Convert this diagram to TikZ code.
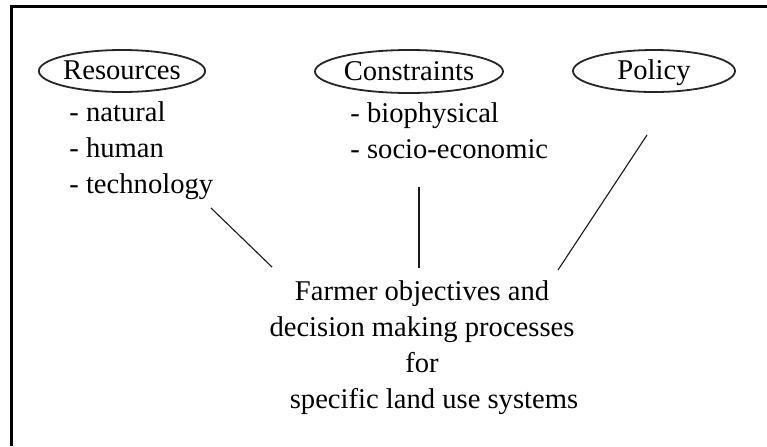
\documentclass[tikz,border=0pt]{standalone}
\usepackage{fontspec}
\setmainfont{Liberation Serif}
\usetikzlibrary{shapes.geometric}
\begin{document}
\begin{tikzpicture}[x=0.5pt,y=-0.5pt,
  txt/.style={font=\fontsize{14.3}{18}\selectfont, inner sep=0pt},
  topic/.style={txt, draw=black!85, line width=0.9pt, ellipse, text height=8.5pt, text depth=0pt},
  listbox/.style={txt, align=left, anchor=base west},
  bodybox/.style={txt, align=center, anchor=base},
  conn/.style={line width=0.55pt, draw=black!90},
  frame/.style={line width=1.5pt}]
\useasboundingbox (0,0) rectangle (767,446);
\fill[white] (0,0) rectangle (767,446);
% frame (left and top edges)
\draw[frame] (11.5,446) -- (11.5,6.5) -- (767,6.5);
% topics
\node[topic, minimum width=81.5pt, minimum height=21pt] (res) at (122,71) {Resources};
\node[topic, minimum width=94pt, minimum height=21.5pt] (con) at (409,71.5) {Constraints};
\node[topic, minimum width=81pt, minimum height=21pt] (pol) at (654,71) {Policy};
% lists (anchored at the baseline of their last line)
\node[listbox] (resl) at (69,193) {- natural\\- human\\- technology};
\node[listbox] (conl) at (350,158) {- biophysical\\- socio-economic};
% bottom text
\node[bodybox] (farm) at (422,408) {Farmer objectives and\\decision making processes\\for\\\hspace*{12pt}specific land use systems};
% connectors
\coordinate (r1) at (211,208); \coordinate (r2) at (272,267);
\coordinate (c1) at (419,187); \coordinate (c2) at (419,268);
\coordinate (p1) at (647,135); \coordinate (p2) at (558,270);
\draw[conn] (r1) -- (r2);
\draw[conn] (c1) -- (c2);
\draw[conn] (p1) -- (p2);
\end{tikzpicture}
\end{document}
